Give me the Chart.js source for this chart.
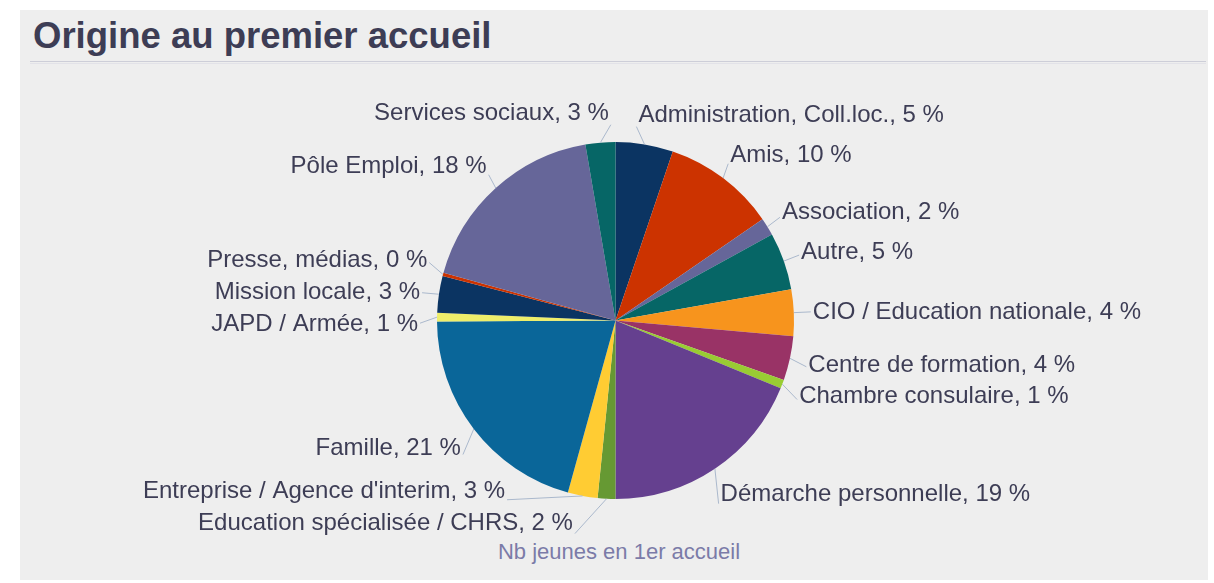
<!DOCTYPE html>
<html lang="fr">
<head>
<meta charset="UTF-8">
<title>Origine au premier accueil</title>
<script src="https://cdn.jsdelivr.net/npm/chart.js"></script>
<style>
    * { margin: 0; padding: 0; box-sizing: border-box; }
    body {
        width: 1214px;
        height: 583px;
        background: #ffffff;
        font-family: "Liberation Sans", Arial, sans-serif;
        overflow: hidden;
        position: relative;
    }
    .panel {
        position: absolute;
        left: 20px;
        top: 10px;
        width: 1188px;
        height: 570px;
        background: #eeeeee;
    }
    h2 {
        position: absolute;
        left: 33px;
        top: 18px;
        font-size: 36.5px;
        line-height: 36px;
        font-weight: bold;
        color: #3d3d55;
    }
    .rule {
        position: absolute;
        left: 30px;
        top: 61px;
        width: 1176px;
        height: 1px;
        background: #cdced8;
        box-shadow: 0 2px 0 #e2e2e8;
    }
    .caption {
        position: absolute;
        left: 0;
        width: 1238px;
        top: 540px;
        text-align: center;
        font-size: 22px;
        line-height: 24px;
        color: #7b7ba8;
    }
    #chart {
        position: absolute;
        left: 0;
        top: 0;
    }
</style>
</head>
<body>
<div class="panel"></div>
<h2>Origine au premier accueil</h2>
<div class="rule"></div>
<div class="caption" id="caption"></div>
<canvas id="chart" width="1214" height="583"></canvas>

<script>
// chart data
const categories = [
    'Administration, Coll.loc.', 'Amis', 'Association', 'Autre',
    'CIO / Education nationale', 'Centre de formation', 'Chambre consulaire',
    'Démarche personnelle', 'Education spécialisée / CHRS',
    "Entreprise / Agence d'interim", 'Famille', 'JAPD / Armée',
    'Mission locale', 'Presse, médias', 'Pôle Emploi', 'Services sociaux'
];
const counts = [52, 102, 16, 52, 42, 40, 8, 188, 16, 27, 206, 8, 33, 3, 180, 27];
const seriesName = 'Nb jeunes en 1er accueil';

const palette = [
    '#0b3462', '#cc3300', '#666699', '#066666', '#f7941d', '#993366',
    '#99cc33', '#65408f', '#669933', '#ffcc33', '#0a6699', '#eeee6a'
];
const sliceColors = categories.map((c, i) => palette[i % palette.length]);

document.getElementById('caption').textContent = seriesName;

const total = counts.reduce((a, b) => a + b, 0);

// spread labels of one side so they don't overlap
function spread(items, gap, minY, maxY) {
    items.sort((a, b) => a.want - b.want);
    let groups = items.map(it => ({ list: [it] }));
    let moved = true;
    while (moved) {
        moved = false;
        groups.forEach(g => {
            let s = 0;
            g.list.forEach((it, k) => { s += it.want - k * gap; });
            let start = s / g.list.length;
            start = Math.max(minY, Math.min(start, maxY - (g.list.length - 1) * gap));
            g.start = start;
        });
        for (let i = 0; i < groups.length - 1; i++) {
            const a = groups[i], b = groups[i + 1];
            if (b.start < a.start + a.list.length * gap) {
                a.list = a.list.concat(b.list);
                groups.splice(i + 1, 1);
                moved = true;
                break;
            }
        }
    }
    groups.forEach(g => g.list.forEach((it, k) => { it.y = g.start + k * gap; }));
}

const outsideLabels = {
    id: 'outsideLabels',
    afterDatasetsDraw(chart) {
        const ctx = chart.ctx;
        const arcs = chart.getDatasetMeta(0).data;
        const cx = arcs[0].x, cy = arcs[0].y, r = arcs[0].outerRadius;
        const R = r + 30;
        const left = [], right = [];
        arcs.forEach((arc, i) => {
            const mid = (arc.startAngle + arc.endAngle) / 2;
            const item = {
                i: i,
                mid: mid,
                want: cy + R * Math.sin(mid),
                text: categories[i] + ', ' + Math.round(counts[i] / total * 100) + ' %'
            };
            (Math.cos(mid) >= 0 ? right : left).push(item);
        });
        spread(left, 32, 107, 522);
        spread(right, 31, 107, 522);

        ctx.save();
        ctx.font = '24px "Liberation Sans", Arial, sans-serif';
        ctx.textBaseline = 'middle';
        ctx.strokeStyle = '#aab8cc';
        ctx.lineWidth = 1;
        [[left, -1], [right, 1]].forEach(([list, dir]) => {
            list.forEach(it => {
                const dy = it.y - cy;
                const hx = Math.sqrt(Math.max(0, R * R - dy * dy));
                const textX = cx + dir * (hx - 11);
                const ex = cx + r * Math.cos(it.mid);
                const ey = cy + r * Math.sin(it.mid);
                const endY = it.y + 12 * Math.abs(dy) / R;
                ctx.beginPath();
                ctx.moveTo(ex, ey);
                ctx.lineTo(textX - dir * 2, endY);
                ctx.stroke();
                ctx.fillStyle = '#3d3d55';
                ctx.textAlign = dir > 0 ? 'left' : 'right';
                ctx.fillText(it.text, textX, it.y + 1);
            });
        });
        ctx.restore();
    }
};

new Chart(document.getElementById('chart'), {
    type: 'pie',
    data: {
        labels: categories,
        datasets: [{
            label: seriesName,
            data: counts,
            backgroundColor: sliceColors,
            borderWidth: 0
        }]
    },
    options: {
        responsive: false,
        animation: false,
        layout: { padding: { left: 400, right: 383, top: 142, bottom: 84 } },
        plugins: {
            legend: { display: false },
            tooltip: { enabled: false }
        }
    },
    plugins: [outsideLabels]
});
</script>
</body>
</html>
